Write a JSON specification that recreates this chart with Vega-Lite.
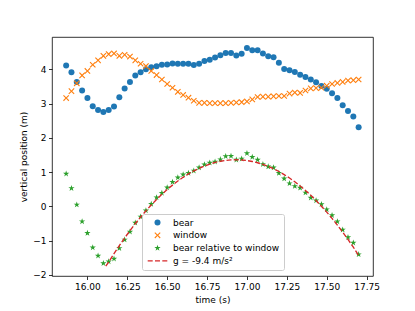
{
  "$schema": "https://vega.github.io/schema/vega-lite/v6.json",
  "width": 321,
  "height": 239,
  "autosize": "none",
  "padding": {"left": 52, "top": 37, "right": 42, "bottom": 35},
  "background": "white",
  "config": {
    "view": {"stroke": "black", "strokeWidth": 0.8},
    "font": "DejaVu Sans",
    "axis": {
      "domain": false, "grid": false, "labelOverlap": false,
      "tickColor": "black", "tickWidth": 0.8, "tickSize": 3.5,
      "labelFont": "DejaVu Sans", "labelFontSize": 9, "labelColor": "black",
      "titleFont": "DejaVu Sans", "titleFontSize": 9, "titleFontWeight": "normal", "titleColor": "black",
      "labelPadding": 2.5, "titlePadding": 4
    }
  },
  "datasets": {
    "obs": [
      {"t": 15.8667, "bear": 4.11, "window": 3.16, "rel": 0.95},
      {"t": 15.9, "bear": 3.91, "window": 3.36, "rel": 0.53},
      {"t": 15.9333, "bear": 3.63, "window": 3.59, "rel": 0.05},
      {"t": 15.9667, "bear": 3.38, "window": 3.82, "rel": -0.44},
      {"t": 16.0, "bear": 3.16, "window": 3.95, "rel": -0.78},
      {"t": 16.0333, "bear": 2.92, "window": 4.13, "rel": -1.2},
      {"t": 16.0667, "bear": 2.81, "window": 4.26, "rel": -1.44},
      {"t": 16.1, "bear": 2.75, "window": 4.39, "rel": -1.66},
      {"t": 16.1333, "bear": 2.81, "window": 4.44, "rel": -1.61},
      {"t": 16.1667, "bear": 2.91, "window": 4.46, "rel": -1.53},
      {"t": 16.2, "bear": 3.18, "window": 4.39, "rel": -1.22},
      {"t": 16.2333, "bear": 3.44, "window": 4.42, "rel": -0.97},
      {"t": 16.2667, "bear": 3.63, "window": 4.37, "rel": -0.74},
      {"t": 16.3, "bear": 3.82, "window": 4.26, "rel": -0.48},
      {"t": 16.3333, "bear": 3.91, "window": 4.16, "rel": -0.3},
      {"t": 16.3667, "bear": 4.0, "window": 4.09, "rel": -0.12},
      {"t": 16.4, "bear": 4.06, "window": 3.95, "rel": 0.07},
      {"t": 16.4333, "bear": 4.09, "window": 3.83, "rel": 0.26},
      {"t": 16.4667, "bear": 4.13, "window": 3.7, "rel": 0.39},
      {"t": 16.5, "bear": 4.14, "window": 3.57, "rel": 0.55},
      {"t": 16.5333, "bear": 4.17, "window": 3.46, "rel": 0.71},
      {"t": 16.5667, "bear": 4.16, "window": 3.34, "rel": 0.84},
      {"t": 16.6, "bear": 4.16, "window": 3.25, "rel": 0.93},
      {"t": 16.6333, "bear": 4.16, "window": 3.17, "rel": 0.97},
      {"t": 16.6667, "bear": 4.12, "window": 3.08, "rel": 1.04},
      {"t": 16.7, "bear": 4.16, "window": 3.02, "rel": 1.13},
      {"t": 16.7333, "bear": 4.24, "window": 3.02, "rel": 1.22},
      {"t": 16.7667, "bear": 4.28, "window": 3.01, "rel": 1.27},
      {"t": 16.8, "bear": 4.34, "window": 3.01, "rel": 1.3},
      {"t": 16.8333, "bear": 4.41, "window": 3.01, "rel": 1.37},
      {"t": 16.8667, "bear": 4.47, "window": 3.01, "rel": 1.46},
      {"t": 16.9, "bear": 4.47, "window": 3.02, "rel": 1.47},
      {"t": 16.9333, "bear": 4.4, "window": 3.03, "rel": 1.36},
      {"t": 16.9667, "bear": 4.45, "window": 3.04, "rel": 1.39},
      {"t": 17.0, "bear": 4.62, "window": 3.06, "rel": 1.55},
      {"t": 17.0333, "bear": 4.55, "window": 3.12, "rel": 1.44},
      {"t": 17.0667, "bear": 4.55, "window": 3.19, "rel": 1.36},
      {"t": 17.1, "bear": 4.46, "window": 3.2, "rel": 1.23},
      {"t": 17.1333, "bear": 4.38, "window": 3.2, "rel": 1.16},
      {"t": 17.1667, "bear": 4.35, "window": 3.21, "rel": 1.13},
      {"t": 17.2, "bear": 4.19, "window": 3.22, "rel": 0.97},
      {"t": 17.2333, "bear": 4.01, "window": 3.22, "rel": 0.81},
      {"t": 17.2667, "bear": 3.97, "window": 3.29, "rel": 0.67},
      {"t": 17.3, "bear": 3.92, "window": 3.32, "rel": 0.59},
      {"t": 17.3333, "bear": 3.84, "window": 3.31, "rel": 0.54},
      {"t": 17.3667, "bear": 3.77, "window": 3.38, "rel": 0.4},
      {"t": 17.4, "bear": 3.7, "window": 3.44, "rel": 0.25},
      {"t": 17.4333, "bear": 3.62, "window": 3.45, "rel": 0.17},
      {"t": 17.4667, "bear": 3.51, "window": 3.46, "rel": 0.06},
      {"t": 17.5, "bear": 3.43, "window": 3.52, "rel": -0.09},
      {"t": 17.5333, "bear": 3.3, "window": 3.57, "rel": -0.26},
      {"t": 17.5667, "bear": 3.16, "window": 3.6, "rel": -0.44},
      {"t": 17.6, "bear": 2.95, "window": 3.63, "rel": -0.68},
      {"t": 17.6333, "bear": 2.78, "window": 3.67, "rel": -0.9},
      {"t": 17.6667, "bear": 2.62, "window": 3.68, "rel": -1.06},
      {"t": 17.7, "bear": 2.31, "window": 3.7, "rel": -1.4}
    ],
    "fit": [
      {"t": 16.115, "y": -1.74},
      {"t": 16.1333, "y": -1.623},
      {"t": 16.1667, "y": -1.378},
      {"t": 16.2, "y": -1.145},
      {"t": 16.2333, "y": -0.921},
      {"t": 16.2667, "y": -0.708},
      {"t": 16.3, "y": -0.505},
      {"t": 16.3333, "y": -0.313},
      {"t": 16.3667, "y": -0.131},
      {"t": 16.4, "y": 0.04},
      {"t": 16.4333, "y": 0.2},
      {"t": 16.4667, "y": 0.351},
      {"t": 16.5, "y": 0.491},
      {"t": 16.5333, "y": 0.62},
      {"t": 16.5667, "y": 0.74},
      {"t": 16.6, "y": 0.848},
      {"t": 16.6333, "y": 0.946},
      {"t": 16.6667, "y": 1.034},
      {"t": 16.7, "y": 1.111},
      {"t": 16.7333, "y": 1.178},
      {"t": 16.7667, "y": 1.235},
      {"t": 16.8, "y": 1.281},
      {"t": 16.8333, "y": 1.316},
      {"t": 16.8667, "y": 1.341},
      {"t": 16.9, "y": 1.356},
      {"t": 16.9333, "y": 1.36},
      {"t": 16.9667, "y": 1.354},
      {"t": 17.0, "y": 1.337},
      {"t": 17.0333, "y": 1.31},
      {"t": 17.0667, "y": 1.272},
      {"t": 17.1, "y": 1.224},
      {"t": 17.1333, "y": 1.166},
      {"t": 17.1667, "y": 1.097},
      {"t": 17.2, "y": 1.017},
      {"t": 17.2333, "y": 0.928},
      {"t": 17.2667, "y": 0.827},
      {"t": 17.3, "y": 0.717},
      {"t": 17.3333, "y": 0.595},
      {"t": 17.3667, "y": 0.464},
      {"t": 17.4, "y": 0.322},
      {"t": 17.4333, "y": 0.169},
      {"t": 17.4667, "y": 0.006},
      {"t": 17.5, "y": -0.167},
      {"t": 17.5333, "y": -0.351},
      {"t": 17.5667, "y": -0.545},
      {"t": 17.6, "y": -0.75},
      {"t": 17.6333, "y": -0.965},
      {"t": 17.6667, "y": -1.191},
      {"t": 17.7, "y": -1.427}
    ]
  },
  "layer": [
    {
      "data": {"name": "obs"},
      "transform": [{"fold": ["bear", "window", "rel"], "as": ["series", "y"]}],
      "mark": {"type": "point", "filled": true, "size": 36, "opacity": 1, "strokeWidth": 0},
      "encoding": {
        "x": {
          "field": "t", "type": "quantitative",
          "scale": {"domain": [15.778, 17.79], "zero": false, "nice": false},
          "axis": {"values": [16, 16.25, 16.5, 16.75, 17, 17.25, 17.5, 17.75], "format": ".2f", "title": "time (s)", "labelOverlap": false}
        },
        "y": {
          "field": "y", "type": "quantitative",
          "scale": {"domain": [-2.03, 4.94], "zero": false, "nice": false},
          "axis": {"values": [-2, -1, 0, 1, 2, 3, 4], "tickCount": 7, "format": "d", "title": "vertical position (m)", "labelOverlap": false}
        },
        "color": {
          "field": "series", "type": "nominal",
          "scale": {"domain": ["bear", "window", "rel", "fit"], "range": ["#1f77b4", "#ff7f0e", "#2ca02c", "#d62728"]},
          "legend": {
            "title": null, "orient": "none", "legendX": 90, "legendY": 177,
            "labelExpr": "datum.value === 'rel' ? 'bear relative to window' : datum.value === 'fit' ? 'g = -9.4 m/s²' : datum.value",
            "padding": 4, "rowPadding": 2.8, "symbolOffset": 7, "labelOffset": 11,
            "strokeColor": "#cccccc", "fillColor": "rgba(255,255,255,0.8)", "cornerRadius": 2,
            "labelFont": "DejaVu Sans", "labelFontSize": 9, "labelColor": "black", "labelLimit": 300,
            "symbolSize": 36, "symbolStrokeWidth": 0, "symbolOpacity": 1
          }
        },
        "shape": {
          "field": "series", "type": "nominal",
          "scale": {
            "domain": ["bear", "window", "rel", "fit"],
            "range": [
              "circle",
              "M1.03,0.77L0.77,1.03L0,0.26L-0.77,1.03L-1.03,0.77L-0.26,0L-1.03,-0.77L-0.77,-1.03L0,-0.26L0.77,-1.03L1.03,-0.77L0.26,0Z",
              "M0,-1.1L0.247,-0.34L1.046,-0.34L0.4,0.13L0.647,0.89L0,0.42L-0.647,0.89L-0.4,0.13L-1.046,-0.34L-0.247,-0.34Z",
              "M-3.267,-0.23H-1.6V0.23H-3.267ZM-0.833,-0.23H0.833V0.23H-0.833ZM1.6,-0.23H3.267V0.23H1.6Z"
            ]
          },
          "legend": {
            "title": null, "orient": "none", "legendX": 90, "legendY": 177,
            "labelExpr": "datum.value === 'rel' ? 'bear relative to window' : datum.value === 'fit' ? 'g = -9.4 m/s²' : datum.value",
            "padding": 4, "rowPadding": 2.8, "symbolOffset": 7, "labelOffset": 11,
            "strokeColor": "#cccccc", "fillColor": "rgba(255,255,255,0.8)", "cornerRadius": 2,
            "labelFont": "DejaVu Sans", "labelFontSize": 9, "labelColor": "black", "labelLimit": 300,
            "symbolSize": 36, "symbolStrokeWidth": 0, "symbolOpacity": 1
          }
        }
      }
    },
    {
      "data": {"name": "fit"},
      "mark": {"type": "line", "color": "#d62728", "strokeWidth": 1.35, "strokeDash": [5, 2.2]},
      "encoding": {
        "x": {"field": "t", "type": "quantitative"},
        "y": {"field": "y", "type": "quantitative"}
      }
    }
  ]
}
